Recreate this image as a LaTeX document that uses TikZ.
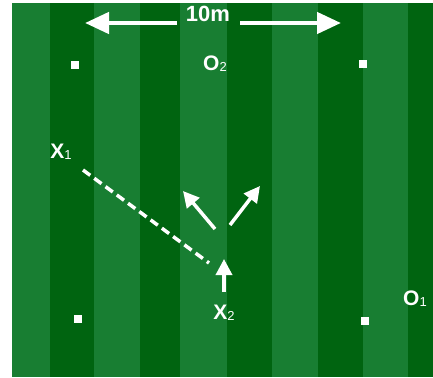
\documentclass[tikz,border=0pt]{standalone}
\usepackage{fontspec}
\setmainfont{Liberation Sans}
\usetikzlibrary{arrows.meta, positioning}

\definecolor{fieldlight}{RGB}{24,126,50}
\definecolor{fielddark}{RGB}{0,100,16}
\newcommand{\lowsub}[1]{{\mdseries\fontsize{13}{13}\selectfont\raisebox{-1pt}{#1}}}

\begin{document}
\begin{tikzpicture}[
  x=1pt, y=-1pt,
  marker/.style={rectangle, fill=white, minimum size=8pt, inner sep=0pt},
  playertext/.style={text=white, inner sep=0pt, font=\bfseries\fontsize{21}{21}\selectfont},
  widearrow/.style={-{Triangle[length=24pt, width=21pt]}, white, line width=4.5pt},
  runarrow/.style={-{Triangle[length=16pt, width=16pt]}, white, line width=3.5pt},
  passline/.style={white, line width=3.5pt, dash pattern=on 9pt off 5pt}
]
\useasboundingbox (0,0) rectangle (433,377);

% pitch stripes
\foreach \xa/\xb/\col in {12/50/fieldlight, 50/94/fielddark, 94/140/fieldlight,
    140/180/fielddark, 180/227/fieldlight, 227/272/fielddark, 272/318/fieldlight,
    318/363/fielddark, 363/408/fieldlight, 408/433/fielddark}
  \fill[\col] (\xa,3) rectangle (\xb,377);

% width of the grid
\node[playertext, font=\bfseries\fontsize{22}{22}\selectfont] (width) at (208,14) {10m};
\coordinate (wl) at (177,23);
\coordinate (wr) at (240,23);
\coordinate (wlend) at (85,23);
\coordinate (wrend) at (341,23);
\draw[widearrow] (wl) -- (wlend);
\draw[widearrow] (wr) -- (wrend);

% cones
\node[marker] (cone1) at (74.5,65.5) {};
\node[marker] (cone2) at (363,64) {};
\node[marker] (cone3) at (78,318.5) {};
\node[marker] (cone4) at (365,321) {};

% players
\node[playertext] (o2) at (215,64) {O\lowsub{2}};
\node[playertext] (x1) at (61,152) {X\lowsub{1}};
\node[playertext] (x2) at (224,313) {X\lowsub{2}};
\node[playertext] (o1) at (415,299) {O\lowsub{1}};

% pass and runs
\coordinate (passstart) at (83,170);
\coordinate (passend) at (209,263);
\draw[passline] (passstart) -- (passend);

\coordinate (runbase) at (224,292);
\coordinate (runtip) at (224,259);
\draw[runarrow] (runbase) -- (runtip);

\coordinate (leftbase) at (215,229);
\coordinate (lefttip) at (183,191);
\coordinate (rightbase) at (230,225);
\coordinate (righttip) at (260,186);
\draw[runarrow] (leftbase) -- (lefttip);
\draw[runarrow] (rightbase) -- (righttip);
\end{tikzpicture}
\end{document}
